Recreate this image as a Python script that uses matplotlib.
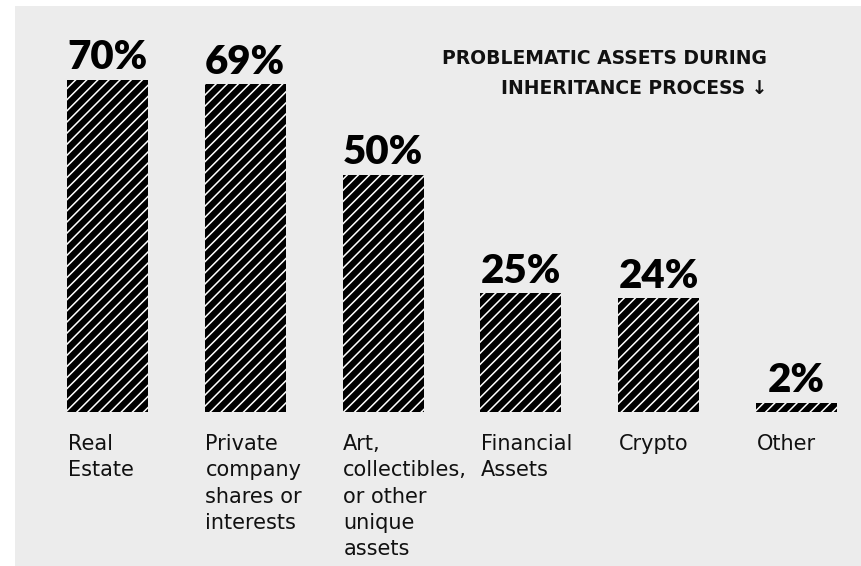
import matplotlib
matplotlib.use("Agg")
import matplotlib.pyplot as plt
from matplotlib.patches import Rectangle
from matplotlib.font_manager import FontProperties

categories = [
    "Real\nEstate",
    "Private\ncompany\nshares or\ninterests",
    "Art,\ncollectibles,\nor other\nunique\nassets",
    "Financial\nAssets",
    "Crypto",
    "Other",
]
values = [70, 69, 50, 25, 24, 2]
title_lines = ["PROBLEMATIC ASSETS DURING", "INHERITANCE PROCESS \u2193"]

W, H = 861, 566
DPI = 100
plt.rcParams["hatch.linewidth"] = 1.1
plt.rcParams["font.family"] = ["Lato", "DejaVu Sans"]

fig = plt.figure(figsize=(W / DPI, H / DPI), dpi=DPI, facecolor="white")

# grey panel behind the chart
fig.patches.append(Rectangle((15 / W, 0), 1 - 15 / W, 1 - 6 / H,
                             transform=fig.transFigure, facecolor="#ececec",
                             edgecolor="none", zorder=-5))

# axes placed so that the baseline sits at y=412px, 4.75 px per percent
base_px = 412
px_per_pct = 4.75
ymax = 70
top_px = base_px - ymax * px_per_pct
left_px, right_px = 52.4, 851.6
ax = fig.add_axes([left_px / W, (H - base_px) / H,
                   (right_px - left_px) / W, (base_px - top_px) / H])
ax.set_xlim(-0.4, 5.4)
ax.set_ylim(0, ymax)
ax.axis("off")
ax.patch.set_visible(False)

bar_w = 0.588
x = list(range(len(values)))
ax.bar(x, values, width=bar_w, color="black", edgecolor="white",
       linewidth=0, hatch="///", zorder=2)

pct_font = FontProperties(family=["Lato"], weight="heavy", style="normal",
                          size=29)
for xi, v in zip(x, values):
    ax.annotate(f"{v}%", (xi, v), xytext=(0, 2.5), textcoords="offset points",
                ha="center", va="bottom", fontproperties=pct_font,
                color="black")

for xi, lab in zip(x, categories):
    ax.annotate(lab, (xi - bar_w / 2, 0), xytext=(0.5, -16),
                textcoords="offset points", ha="left", va="top",
                fontsize=15, color="#111111", linespacing=1.39,
                family=["DejaVu Sans"])

fig.text(767 / W, 1 - 49 / H, title_lines[0], ha="right", va="top",
         fontsize=13.5, fontweight="bold", color="#111111",
         family=["DejaVu Sans"])
fig.text(767 / W, 1 - 79 / H, title_lines[1], ha="right", va="top",
         fontsize=13.5, fontweight="bold", color="#111111",
         family=["DejaVu Sans"])

fig.savefig("out.png", dpi=DPI, facecolor="white")
